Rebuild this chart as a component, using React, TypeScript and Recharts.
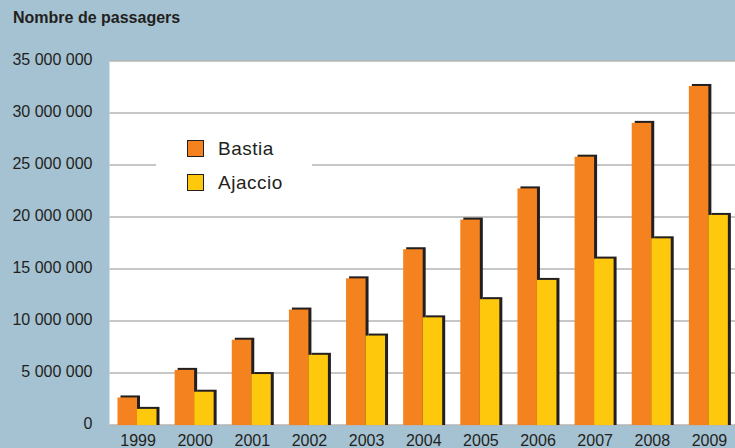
import { Bar, BarChart, CartesianGrid, Legend, XAxis, YAxis } from 'recharts'

const years = ['1999', '2000', '2001', '2002', '2003', '2004', '2005', '2006', '2007', '2008', '2009']
const bastia = [2650000, 5300000, 8200000, 11100000, 14100000, 16900000, 19750000, 22750000, 25800000, 29050000, 32600000]
const ajaccio = [1550000, 3200000, 4900000, 6750000, 8600000, 10350000, 12100000, 13950000, 16000000, 17950000, 20200000]
const yTicks = [0, 5000000, 10000000, 15000000, 20000000, 25000000, 30000000, 35000000]

const data = years.map((year, i) => ({ year, Bastia: bastia[i], Ajaccio: ajaccio[i] }))

const font = '"Liberation Sans", Arial, sans-serif'
const ink = '#231f20'
const bg = '#a4c2d2'
const orange = '#f4821f'
const yellow = '#fec80c'

const fmt = (v: number) => String(v).replace(/\B(?=(\d{3})+(?!\d))/g, ' ')

function ShadowBar(props: any) {
  const { x, y, width, height, fill } = props
  if (!height) return null
  const sx = x - 1
  return (
    <g>
      <rect x={sx + 3} y={y - 2} width={width} height={height + 2} fill={ink} />
      <rect x={sx} y={y} width={width} height={height} fill={fill} />
    </g>
  )
}

function LegendBox() {
  const items = [
    { name: 'Bastia', color: orange },
    { name: 'Ajaccio', color: yellow },
  ]
  return (
    <div style={{ background: '#fff', width: 156, height: 72, position: 'relative', fontFamily: font }}>
      {items.map((it, i) => (
        <div key={it.name} style={{ position: 'absolute', left: 31, top: 12 + i * 34, display: 'flex', alignItems: 'center' }}>
          <span
            style={{
              display: 'inline-block',
              width: 15,
              height: 15,
              background: it.color,
              border: `1px solid ${ink}`,
              boxSizing: 'content-box',
            }}
          />
          <span style={{ marginLeft: 14, fontSize: 19, letterSpacing: 0.5, color: ink, lineHeight: '17px' }}>
            {it.name}
          </span>
        </div>
      ))}
    </div>
  )
}

export default function App() {
  return (
    <div style={{ position: 'absolute', left: 0, top: 0, width: 735, height: 448, overflow: 'hidden', background: bg }}>
      <div
        style={{
          position: 'absolute',
          left: 13,
          top: 9,
          fontFamily: font,
          fontWeight: 'bold',
          fontSize: 16,
          color: ink,
          zIndex: 2,
        }}
      >
        Nombre de passagers
      </div>
      <BarChart
        width={740}
        height={448}
        data={data}
        margin={{ top: 61, right: 2, bottom: 0, left: 0 }}
        barGap={0}
        barCategoryGap={0}
        style={{ fontFamily: font }}
      >
        <CartesianGrid fill="#fff" vertical={false} stroke="#b5b5b5" strokeWidth={1.3} />
        <XAxis
          dataKey="year"
          height={23}
          axisLine={false}
          tickLine={false}
          tickSize={0}
          tickMargin={9.5}
          interval={0}
          tick={{ fill: ink, fontSize: 16 }}
        />
        <YAxis
          width={109.5}
          domain={[0, 35000000]}
          ticks={yTicks}
          axisLine={false}
          tickLine={false}
          tickSize={0}
          tickMargin={17}
          tickFormatter={fmt}
          tick={{ fill: ink, fontSize: 16, dy: -2 }}
        />
        <Legend
          layout="horizontal"
          verticalAlign="middle"
          align="center"
          wrapperStyle={{ left: 156, top: 128, width: 156, height: 72 }}
          content={() => <LegendBox />}
        />
        <Bar dataKey="Bastia" fill={orange} barSize={19.5} shape={<ShadowBar />} isAnimationActive={false} />
        <Bar dataKey="Ajaccio" fill={yellow} barSize={19.5} shape={<ShadowBar />} isAnimationActive={false} />
      </BarChart>
    </div>
  )
}
